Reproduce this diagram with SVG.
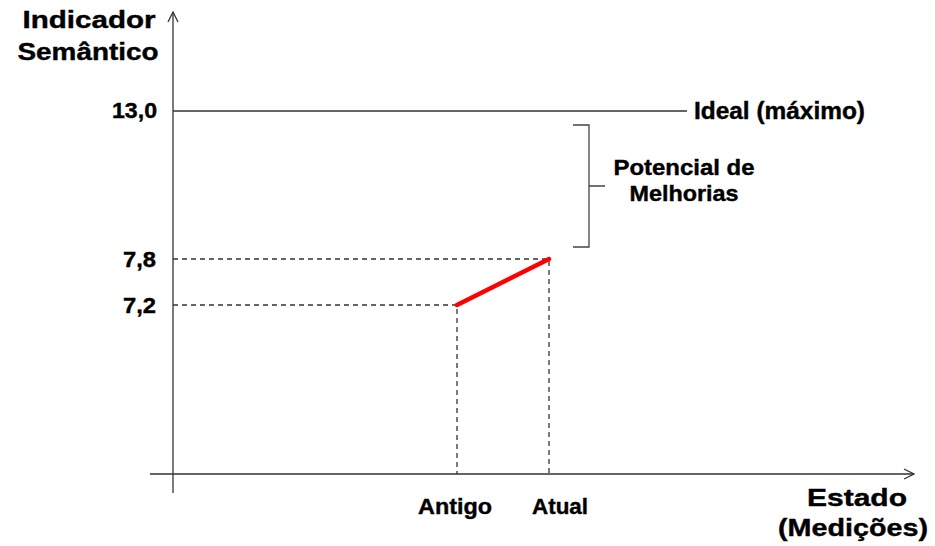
<svg xmlns="http://www.w3.org/2000/svg" width="935" height="546" viewBox="0 0 935 546">
  <style>
    .t { font-family: "Liberation Sans", Arial, sans-serif; font-weight: bold; fill: #000; stroke: #000; stroke-width: 0.4; }
    .axis { stroke: #333; stroke-width: 1.3; fill: none; }
    .dash { stroke: #333; stroke-width: 1.3; stroke-dasharray: 5 4; fill: none; }
  </style>
  <defs>
    <marker id="open" viewBox="0 0 12 12" refX="11" refY="6" markerWidth="12" markerHeight="12" markerUnits="userSpaceOnUse" orient="auto">
      <path d="M1,1 L11,6 L1,11" fill="none" stroke="#333" stroke-width="1.3"/>
    </marker>
  </defs>

  <g id="connectors">
    <!-- axes -->
    <line class="axis" x1="173" y1="493" x2="173" y2="12" marker-end="url(#open)"/>
    <line class="axis" x1="150" y1="474" x2="914" y2="474" marker-end="url(#open)"/>
    <!-- ideal level -->
    <line class="axis" x1="173" y1="111" x2="687" y2="111"/>
    <!-- guides -->
    <path class="dash" d="M173,259 H549 V474"/>
    <path class="dash" d="M173,305 H457 V474"/>
    <!-- trend -->
    <line x1="457" y1="305" x2="549" y2="259" stroke="#f00" stroke-width="4.5" stroke-linecap="round"/>
    <!-- brace -->
    <path d="M573,125 H589 V186 H605 M589,186 V247 H573" fill="none" stroke="#444" stroke-width="1.3"/>
  </g>

  <g id="y-title">
    <text class="t" x="89" y="28" font-size="24" text-anchor="middle" textLength="133" lengthAdjust="spacingAndGlyphs">Indicador</text>
    <text class="t" x="88" y="60" font-size="24" text-anchor="middle" textLength="141" lengthAdjust="spacingAndGlyphs">Semântico</text>
  </g>
  <g id="x-title">
    <text class="t" x="857" y="506" font-size="24" text-anchor="middle" textLength="100" lengthAdjust="spacingAndGlyphs">Estado</text>
    <text class="t" x="853" y="536" font-size="24" text-anchor="middle" textLength="150" lengthAdjust="spacingAndGlyphs">(Medições)</text>
  </g>
  <g id="y-ticks">
    <text class="t" x="157" y="118" font-size="22" text-anchor="end" textLength="45" lengthAdjust="spacingAndGlyphs">13,0</text>
    <text class="t" x="156" y="267" font-size="22" text-anchor="end" textLength="33" lengthAdjust="spacingAndGlyphs">7,8</text>
    <text class="t" x="156" y="313" font-size="22" text-anchor="end" textLength="33" lengthAdjust="spacingAndGlyphs">7,2</text>
  </g>
  <g id="ideal">
    <text class="t" x="694" y="119" font-size="23" textLength="171" lengthAdjust="spacingAndGlyphs">Ideal (máximo)</text>
  </g>
  <g id="potencial">
    <text class="t" x="684" y="175" font-size="22" text-anchor="middle" textLength="141" lengthAdjust="spacingAndGlyphs">Potencial de</text>
    <text class="t" x="684" y="201" font-size="22" text-anchor="middle" textLength="109" lengthAdjust="spacingAndGlyphs">Melhorias</text>
  </g>
  <g id="x-ticks">
    <text class="t" x="455" y="514" font-size="22" text-anchor="middle" textLength="74" lengthAdjust="spacingAndGlyphs">Antigo</text>
    <text class="t" x="560" y="514" font-size="22" text-anchor="middle" textLength="56" lengthAdjust="spacingAndGlyphs">Atual</text>
  </g>
</svg>
